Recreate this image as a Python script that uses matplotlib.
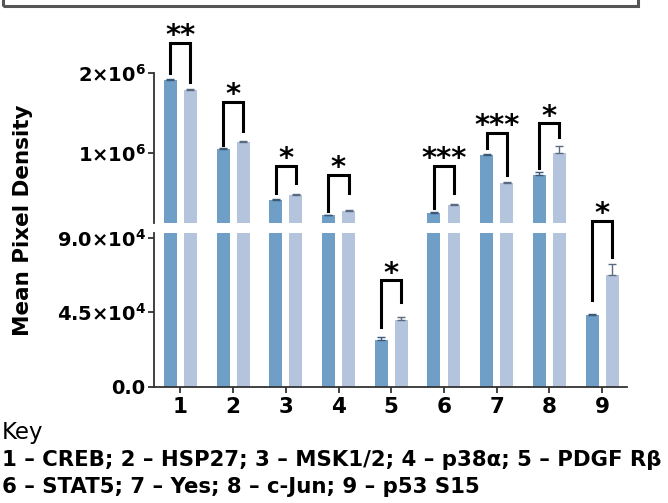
import matplotlib
matplotlib.use('Agg')
import matplotlib.pyplot as plt
from matplotlib.patches import Rectangle
import numpy as np

plt.rcParams['font.family'] = ['DejaVu Sans']
plt.rcParams['font.weight'] = 'bold'
plt.rcParams['mathtext.fontset'] = 'custom'
plt.rcParams['mathtext.rm'] = 'DejaVu Sans:bold'
plt.rcParams['mathtext.bf'] = 'DejaVu Sans:bold'
plt.rcParams['mathtext.it'] = 'DejaVu Sans:bold'

# data
groups = [1, 2, 3, 4, 5, 6, 7, 8, 9]
dark_vals = [1.91e6, 1.05e6, 0.41e6, 0.22e6, 28100, 0.25e6, 0.975e6, 0.725e6, 43600]
light_vals = [1.79e6, 1.14e6, 0.475e6, 0.28e6, 40200, 0.35e6, 0.63e6, 1.0e6, 67300]
dark_err = [0.01e6, 0.01e6, 0.01e6, 0.01e6, 2000, 0.01e6, 0.01e6, 0.04e6, 600]
light_err = [0.01e6, 0.01e6, 0.01e6, 0.01e6, 2000, 0.01e6, 0.01e6, 0.09e6, 7000]
stars = ['**', '*', '*', '*', '*', '***', '***', '*', '*']
# bracket: top, left leg end, right leg end (panel the bracket sits in)
br_top = [2.38e6, 1.64e6, 0.84e6, 0.73e6, 64300, 0.84e6, 1.25e6, 1.37e6, 100400]
br_left = [2.0e6, 1.1e6, 0.5e6, 0.27e6, 36100, 0.31e6, 1.06e6, 0.81e6, 52200]
br_right = [1.89e6, 1.27e6, 0.625e6, 0.5e6, 51200, 0.5e6, 0.725e6, 1.2e6, 78300]
br_panel = ['top', 'top', 'top', 'top', 'bot', 'top', 'top', 'top', 'bot']

key_lines = ['1 \u2013 CREB; 2 \u2013 HSP27; 3 \u2013 MSK1/2; 4 \u2013 p38\u03b1; 5 \u2013 PDGF R\u03b2',
             '6 \u2013 STAT5; 7 \u2013 Yes; 8 \u2013 c-Jun; 9 \u2013 p53 S15']

dark_col = '#6f9ec6'
light_col = '#b3c4dc'
w = 0.245
off = 0.19

fig = plt.figure(figsize=(6.68, 5.03), dpi=100)
ax_t = fig.add_axes([0.2305, 0.5567, 0.708, 0.2982])
ax_b = fig.add_axes([0.2305, 0.2312, 0.708, 0.3056])

x = np.array(groups)
for ax in (ax_t, ax_b):
    ax.bar(x - off, dark_vals, w, color=dark_col, edgecolor='none',
           yerr=[np.zeros(9), dark_err], error_kw=dict(ecolor='#3a5a78', lw=1, capsize=3, capthick=1))
    ax.bar(x + off, light_vals, w, color=light_col, edgecolor='none',
           yerr=[np.zeros(9), light_err], error_kw=dict(ecolor='#5a6a80', lw=1, capsize=3, capthick=1))
    ax.set_xlim(0.5, 9.47)
    for s in ('top', 'right'):
        ax.spines[s].set_visible(False)
    ax.spines['left'].set_linewidth(1.3)
    ax.spines['left'].set_color('#333333')
    ax.tick_params(axis='y', labelsize=14, width=1.3, length=4, color='#333333', pad=2)

ax_t.set_ylim(1.25e5, 2.0e6)
ax_t.spines['bottom'].set_visible(False)
ax_t.set_xticks([])
ax_t.set_yticks([1e6, 2e6])
ax_t.set_yticklabels([r'$1{\times}10^{6}$', r'$2{\times}10^{6}$'])

ax_b.set_ylim(0, 93000)
ax_b.set_yticks([0, 45000, 90000])
ax_b.set_yticklabels(['0.0', r'$4.5{\times}10^{4}$', r'$9.0{\times}10^{4}$'])
ax_b.set_xticks(groups)
ax_b.set_xticklabels([str(g) for g in groups])
ax_b.tick_params(axis='x', labelsize=15.5, width=1.3, length=4, color='#333333')
ax_b.spines['bottom'].set_linewidth(1.3)
ax_b.spines['bottom'].set_color('#333333')

# significance brackets
for i, g in enumerate(groups):
    ax = ax_t if br_panel[i] == 'top' else ax_b
    xl, xr = g - off, g + off
    ax.plot([xl, xl, xr, xr], [br_left[i], br_top[i], br_top[i], br_right[i]],
            color='black', lw=2.2, clip_on=False, solid_joinstyle='miter')
    ax.annotate(stars[i], (g, br_top[i]), xytext=(0, -1), textcoords='offset points',
                ha='center', va='baseline', fontsize=21, fontweight='bold', annotation_clip=False)

fig.text(0.034, 0.563, 'Mean Pixel Density', rotation=90, ha='center', va='center', fontsize=15.5)

fig.text(0.003, 0.141, 'Key', ha='left', va='center', fontsize=16.5, fontweight='normal')
fig.text(0.003, 0.086, key_lines[0], ha='left', va='center', fontsize=15.3)
fig.text(0.003, 0.032, key_lines[1], ha='left', va='center', fontsize=15.3)

# cut-off box at the top edge
fig.patches.append(Rectangle((3 / 668, 0.988), 635 / 668, 0.05, transform=fig.transFigure,
                             fill=False, edgecolor='#555555', lw=2.2, clip_on=False))

fig.savefig('out.png', dpi=100)
